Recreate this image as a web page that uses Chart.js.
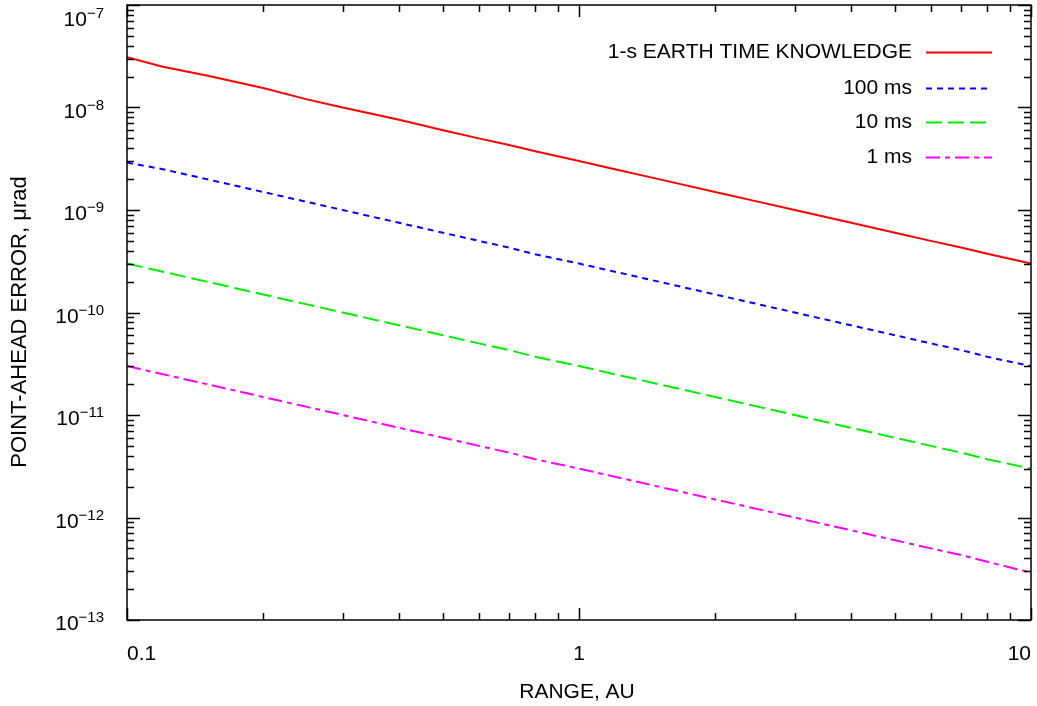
<!DOCTYPE html>
<html>
<head>
<meta charset="utf-8">
<script src="https://cdn.jsdelivr.net/npm/chart.js@4/dist/chart.umd.min.js"></script>
<style>
    html, body { margin: 0; padding: 0; background: #fff; }
    #wrap { width: 1037px; height: 706px; }
</style>
</head>
<body>
<div id="wrap"><canvas id="chart" width="1037" height="706"></canvas></div>
<script>
// range in AU
const range = [0.1, 0.12, 0.15, 0.2, 0.25, 0.3, 0.4, 0.5, 0.6, 0.7, 0.8, 1, 1.2, 1.5, 2, 2.5, 3, 4, 5, 6, 7, 8, 10];

// point-ahead error, urad
const earth1s = [3.1e-8, 2.5e-8, 2.05e-8, 1.55e-8, 1.2e-8, 1.0e-8, 7.6e-9, 6.0e-9, 5.0e-9, 4.3e-9, 3.75e-9, 3.0e-9,
    2.5e-9, 2.0e-9, 1.5e-9, 1.2e-9, 1.0e-9, 7.5e-10, 6.0e-10, 5.0e-10, 4.3e-10, 3.75e-10, 3.0e-10];
const ms100 = [2.9e-9, 2.5e-9, 2.0e-9, 1.5e-9, 1.2e-9, 1.0e-9, 7.5e-10, 6.0e-10, 5.0e-10, 4.3e-10, 3.7e-10, 3.0e-10,
    2.5e-10, 2.0e-10, 1.5e-10, 1.2e-10, 1.0e-10, 7.5e-11, 6.0e-11, 5.0e-11, 4.3e-11, 3.7e-11, 3.0e-11];
const ms10 = [3.0e-10, 2.5e-10, 2.0e-10, 1.5e-10, 1.2e-10, 1.0e-10, 7.5e-11, 6.0e-11, 5.0e-11, 4.3e-11, 3.7e-11, 3.0e-11,
    2.5e-11, 2.0e-11, 1.5e-11, 1.2e-11, 1.0e-11, 7.5e-12, 6.0e-12, 5.0e-12, 4.3e-12, 3.7e-12, 3.0e-12];
const ms1 = [3.0e-11, 2.5e-11, 2.0e-11, 1.5e-11, 1.2e-11, 1.0e-11, 7.5e-12, 6.0e-12, 5.0e-12, 4.3e-12, 3.7e-12, 3.0e-12,
    2.5e-12, 2.0e-12, 1.5e-12, 1.2e-12, 1.0e-12, 7.5e-13, 6.0e-13, 5.0e-13, 4.3e-13, 3.7e-13, 2.9e-13];

const seriesNames = ['1-s EARTH TIME KNOWLEDGE', '100 ms', '10 ms', '1 ms'];
const xTicks = [0.1, 1, 10];
const yExponents = [-13, -12, -11, -10, -9, -8, -7];

const FONT = '"Liberation Sans", Arial, Helvetica, sans-serif';

function toPoints(values) {
    return values.map((v, i) => ({ x: range[i], y: v }));
}

const lineDefault = {
    borderWidth: 2,
    pointRadius: 0,
    fill: false,
    tension: 0,
};

// gnuplot-like frame, inward ticks, labels and key
const frame = {
    id: 'frame',
    afterDraw(chart) {
        const ctx = chart.ctx;
        const a = chart.chartArea;
        const xs = chart.scales.x;
        const ys = chart.scales.y;
        ctx.save();
        ctx.strokeStyle = '#000';
        ctx.lineWidth = 1.5;

        // minor + major ticks on all four sides
        ctx.beginPath();
        for (let e = -1; e <= 1; e++) {
            for (let k = 1; k <= 9; k++) {
                const v = k * Math.pow(10, e);
                if (v < 0.1 - 1e-9 || v > 10 + 1e-9) continue;
                const px = Math.round(xs.getPixelForValue(v)) + 0.5;
                const len = k === 1 ? 12 : 7;
                ctx.moveTo(px, a.bottom); ctx.lineTo(px, a.bottom - len);
                ctx.moveTo(px, a.top); ctx.lineTo(px, a.top + len);
            }
        }
        for (let e = -13; e <= -7; e++) {
            for (let k = 1; k <= 9; k++) {
                const v = k * Math.pow(10, e);
                if (e === -7 && k > 1) continue;
                const py = Math.round(ys.getPixelForValue(v)) + 0.5;
                const len = k === 1 ? 13 : 7;
                ctx.moveTo(a.left, py); ctx.lineTo(a.left + len, py);
                ctx.moveTo(a.right, py); ctx.lineTo(a.right - len, py);
            }
        }
        ctx.stroke();
        ctx.strokeRect(a.left, a.top, a.right - a.left, a.bottom - a.top);

        // y tick labels 10^n
        ctx.fillStyle = '#000';
        ctx.textBaseline = 'alphabetic';
        yExponents.forEach(e => {
            const py = ys.getPixelForValue(Math.pow(10, e));
            let base = py + 10;
            if (e === -7) base = 26;
            const sup = '\u2212' + Math.abs(e);
            ctx.font = '15px ' + FONT;
            const supW = ctx.measureText(sup).width;
            const right = 104;
            ctx.textAlign = 'left';
            ctx.fillText(sup, right - supW, base - 8);
            ctx.font = '21px ' + FONT;
            ctx.textAlign = 'right';
            ctx.fillText('10', right - supW, base);
        });

        // x tick labels
        ctx.font = '21px ' + FONT;
        xTicks.forEach((v, i) => {
            const px = xs.getPixelForValue(v);
            ctx.textAlign = i === 0 ? 'left' : (i === xTicks.length - 1 ? 'right' : 'center');
            ctx.fillText(String(v), px, 660);
        });

        // axis titles
        ctx.font = '21px ' + FONT;
        ctx.textAlign = 'center';
        ctx.fillText('RANGE, AU', (a.left + a.right) / 2 - 2, 698);
        ctx.save();
        ctx.translate(26, 322);
        ctx.rotate(-Math.PI / 2);
        ctx.font = '22px ' + FONT;
        ctx.fillText('POINT-AHEAD ERROR, \u03bcrad', 0, 0);
        ctx.restore();

        // key
        const rows = [52, 88, 122, 157];
        chart.data.datasets.forEach((ds, i) => {
            ctx.font = '21px ' + FONT;
            ctx.textAlign = 'right';
            ctx.textBaseline = 'middle';
            ctx.fillStyle = '#000';
            ctx.fillText(ds.label, 912, rows[i]);
            ctx.beginPath();
            ctx.strokeStyle = ds.borderColor;
            ctx.lineWidth = 2;
            ctx.setLineDash(ds.borderDash || []);
            ctx.moveTo(926, rows[i] + 0.5);
            ctx.lineTo(992, rows[i] + 0.5);
            ctx.stroke();
        });
        ctx.restore();
    }
};

const hiddenAxis = {
    display: true,
    grid: { display: false, drawTicks: false, tickLength: 0 },
    border: { display: false },
    ticks: { display: false },
};

new Chart(document.getElementById('chart').getContext('2d'), {
    type: 'line',
    data: {
        datasets: [{
            label: seriesNames[0],
            data: toPoints(earth1s),
            borderColor: '#ff0000',
            ...lineDefault
        }, {
            label: seriesNames[1],
            data: toPoints(ms100),
            borderColor: '#0000ff',
            borderDash: [6, 5],
            ...lineDefault
        }, {
            label: seriesNames[2],
            data: toPoints(ms10),
            borderColor: '#00ee00',
            borderDash: [16, 6],
            ...lineDefault
        }, {
            label: seriesNames[3],
            data: toPoints(ms1),
            borderColor: '#ff00ff',
            borderDash: [14, 5, 5, 5],
            ...lineDefault
        }]
    },
    options: {
        responsive: false,
        animation: false,
        layout: { padding: { left: 127, right: 6, top: 5, bottom: 86 } },
        plugins: {
            legend: { display: false },
            tooltip: { enabled: false },
        },
        scales: {
            x: { type: 'logarithmic', min: 0.1, max: 10, ...hiddenAxis },
            y: { type: 'logarithmic', min: 1e-13, max: 1e-7, ...hiddenAxis },
        }
    },
    plugins: [frame]
});
</script>
</body>
</html>
